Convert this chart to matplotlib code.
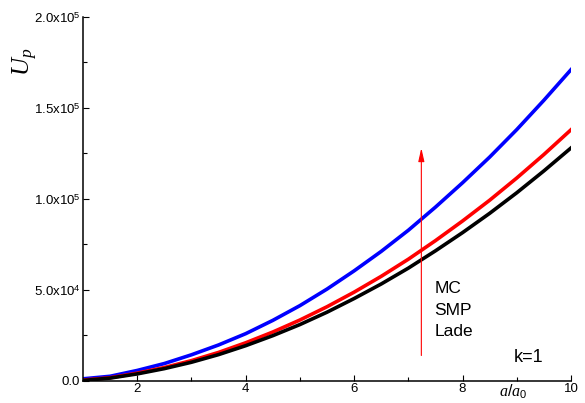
import matplotlib
matplotlib.use('Agg')
import matplotlib.pyplot as plt
from matplotlib.ticker import MultipleLocator, FixedLocator, FixedFormatter

plt.rcParams['font.family'] = 'Liberation Sans'
plt.rcParams['mathtext.fontset'] = 'custom'
plt.rcParams['mathtext.rm'] = 'Liberation Sans'
plt.rcParams['mathtext.it'] = 'Liberation Serif:italic'

# a/a0 sample points and plastic zone energy for each criterion
ratio = [1.0, 1.5, 2.0, 2.5, 3.0, 3.5, 4.0, 4.5, 5.0, 5.5,
         6.0, 6.5, 7.0, 7.5, 8.0, 8.5, 9.0, 9.5, 10.0]
u_lade = [300, 1600, 3900, 6800, 10300, 14500, 19400, 24900, 31000, 37800,
          45300, 53300, 62000, 71500, 81500, 92100, 103400, 115400, 128000]
u_smp = [500, 1800, 4300, 7400, 11200, 15700, 21000, 26900, 33500, 40800,
         48800, 57500, 66900, 77100, 87900, 99300, 111500, 124400, 138000]
u_mc = [1200, 2600, 5800, 9600, 14400, 19800, 26000, 33300, 41400, 50500,
        60500, 71200, 82800, 95500, 108900, 123000, 138100, 154200, 171000]

y_ticks = [0, 50000, 100000, 150000, 200000]
y_labels = ['0.0', r'5.0x10$^{4}$', r'1.0x10$^{5}$', r'1.5x10$^{5}$', r'2.0x10$^{5}$']
x_ticks = [2, 4, 6, 8, 10]

fig = plt.figure(figsize=(5.85, 4.03), dpi=100)
ax = fig.add_axes([0.142, 0.0546, 0.834, 0.9034])

ax.plot(ratio, u_mc, color='#0000ff', lw=2.6)
ax.plot(ratio, u_smp, color='#ff0000', lw=2.6)
ax.plot(ratio, u_lade, color='#000000', lw=2.6)

# arrow showing the order MC -> SMP -> Lade
ax.annotate('', xy=(7.24, 128000), xytext=(7.24, 14000),
            arrowprops=dict(arrowstyle='-|>,head_width=0.18,head_length=0.8',
                            color='red', lw=0.8,
                            mutation_scale=10, shrinkA=0, shrinkB=0))
ax.text(7.48, 51000, 'MC', fontsize=12.5, va='center')
ax.text(7.48, 38500, 'SMP', fontsize=12.5, va='center')
ax.text(7.48, 27000, 'Lade', fontsize=12.5, va='center')
ax.text(8.95, 12800, 'k=1', fontsize=13, va='center')

ax.set_xlim(1, 10)
ax.set_ylim(0, 200000)
ax.xaxis.set_major_locator(FixedLocator(x_ticks))
ax.xaxis.set_minor_locator(MultipleLocator(1))
ax.yaxis.set_major_locator(FixedLocator(y_ticks))
ax.yaxis.set_major_formatter(FixedFormatter(y_labels))
ax.yaxis.set_minor_locator(MultipleLocator(25000))
ax.tick_params(which='both', direction='in', labelsize=9.5, width=0.8)
ax.tick_params(which='major', length=4)
ax.tick_params(which='minor', length=3)
ax.tick_params(axis='x', pad=1.5)
ax.tick_params(axis='y', pad=2)

for side in ['top', 'right']:
    ax.spines[side].set_visible(False)
for side in ['left', 'bottom']:
    ax.spines[side].set_linewidth(1.1)

fig.text(25 / 585, 1 - 62 / 403, r'$U_p$', fontsize=18, rotation=90,
         ha='center', va='center')
fig.text(513 / 585, 2 / 403, r'$a/a_\mathit{0}$', fontsize=11.5,
         ha='center', va='bottom')

fig.savefig('out.png', dpi=100)
